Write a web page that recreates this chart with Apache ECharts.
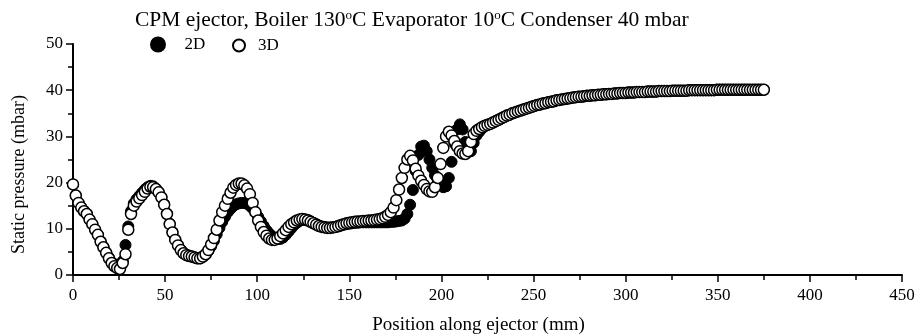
<!DOCTYPE html>
<html>
<head>
<meta charset="utf-8">
<script src="https://cdn.jsdelivr.net/npm/echarts@6/dist/echarts.min.js"></script>
<style>
  html, body { margin: 0; padding: 0; background: #fff; }
  #chart { width: 919px; height: 336px; }
</style>
</head>
<body>
<div id="chart"></div>
<script>
// Position along the ejector (mm), one sample every 1.5 mm
const positionMm = [
  0,1.5,3,4.5,6,7.5,9,10.5,12,13.5,
  15,16.5,18,19.5,21,22.5,24,25.5,27,28.5,
  30,31.5,33,34.5,36,37.5,39,40.5,42,43.5,
  45,46.5,48,49.5,51,52.5,54,55.5,57,58.5,
  60,61.5,63,64.5,66,67.5,69,70.5,72,73.5,
  75,76.5,78,79.5,81,82.5,84,85.5,87,88.5,
  90,91.5,93,94.5,96,97.5,99,100.5,102,103.5,
  105,106.5,108,109.5,111,112.5,114,115.5,117,118.5,
  120,121.5,123,124.5,126,127.5,129,130.5,132,133.5,
  135,136.5,138,139.5,141,142.5,144,145.5,147,148.5,
  150,151.5,153,154.5,156,157.5,159,160.5,162,163.5,
  165,166.5,168,169.5,171,172.5,174,175.5,177,178.5,
  180,181.5,183,184.5,186,187.5,189,190.5,192,193.5,
  195,196.5,198,199.5,201,202.5,204,205.5,207,208.5,
  210,211.5,213,214.5,216,217.5,219,220.5,222,223.5,
  225,226.5,228,229.5,231,232.5,234,235.5,237,238.5,
  240,241.5,243,244.5,246,247.5,249,250.5,252,253.5,
  255,256.5,258,259.5,261,262.5,264,265.5,267,268.5,
  270,271.5,273,274.5,276,277.5,279,280.5,282,283.5,
  285,286.5,288,289.5,291,292.5,294,295.5,297,298.5,
  300,301.5,303,304.5,306,307.5,309,310.5,312,313.5,
  315,316.5,318,319.5,321,322.5,324,325.5,327,328.5,
  330,331.5,333,334.5,336,337.5,339,340.5,342,343.5,
  345,346.5,348,349.5,351,352.5,354,355.5,357,358.5,
  360,361.5,363,364.5,366,367.5,369,370.5,372,373.5,
  375
];

// Static pressure (mbar), 2D simulation
const pressure2D = [
  19.6,17.2,15.6,14.6,13.8,13.2,12.0,11.0,9.8,8.7,
  7.3,6.1,4.9,3.8,2.8,2.1,1.7,1.6,3.0,6.5,
  10.5,13.8,15.5,16.4,17.1,17.8,18.5,19.0,19.3,19.2,
  18.7,18.0,16.9,15.3,13.3,11.1,9.3,7.7,6.5,5.5,
  4.8,4.4,4.2,4.0,3.8,3.6,3.6,3.9,4.4,5.2,
  6.2,7.4,8.8,10.2,11.5,12.6,13.6,14.3,14.9,15.3,
  15.5,15.6,15.6,15.4,15.0,14.4,13.6,12.6,11.6,10.6,
  9.7,9.0,8.4,8.0,7.8,7.8,8.1,8.7,9.4,10.1,
  10.8,11.3,11.7,11.9,12.0,11.9,11.6,11.3,11.0,10.7,
  10.5,10.4,10.3,10.3,10.3,10.4,10.5,10.7,10.9,11.0,
  11.1,11.2,11.3,11.3,11.4,11.4,11.4,11.4,11.4,11.4,
  11.4,11.4,11.4,11.4,11.4,11.5,11.5,11.6,11.7,11.8,
  12.2,13.2,15.2,18.4,22.5,26.0,27.8,28.0,26.8,25.0,
  23.2,21.6,20.4,19.5,19.0,19.2,21.0,24.5,28.5,31.5,
  32.6,31.5,28.8,26.6,26.8,28.6,30.2,31.0,31.7,32.2,
  32.5,32.7,33.0,33.3,33.6,33.9,34.2,34.5,34.7,35.0,
  35.2,35.4,35.6,35.8,36.0,36.2,36.4,36.6,36.8,36.9,
  37.1,37.2,37.4,37.5,37.6,37.8,37.9,38.0,38.1,38.2,
  38.3,38.4,38.5,38.6,38.6,38.7,38.8,38.8,38.9,38.9,
  39.0,39.0,39.1,39.1,39.2,39.2,39.3,39.3,39.4,39.4,
  39.4,39.5,39.5,39.5,39.6,39.6,39.6,39.6,39.7,39.7,
  39.7,39.7,39.8,39.8,39.8,39.8,39.8,39.9,39.9,39.9,
  39.9,39.9,39.9,40.0,40.0,40.0,40.0,40.0,40.0,40.0,
  40.0,40.0,40.0,40.1,40.1,40.1,40.1,40.1,40.1,40.1,
  40.1,40.1,40.1,40.1,40.1,40.1,40.1,40.1,40.1,40.1,
  40.1
];

// Static pressure (mbar), 3D simulation
const pressure3D = [
  19.6,17.2,15.6,14.6,13.8,13.2,12.0,11.0,9.8,8.7,
  7.2,6.0,4.8,3.6,2.6,1.9,1.5,1.3,2.6,4.5,
  9.8,13.2,15.0,15.9,16.6,17.3,18.0,18.7,19.1,19.0,
  18.6,17.9,16.8,15.2,13.2,11.0,9.2,7.6,6.4,5.4,
  4.7,4.3,4.1,4.0,3.8,3.6,3.6,4.0,4.5,5.4,
  6.6,8.0,9.8,11.8,13.6,15.0,16.5,17.8,18.9,19.5,
  19.8,19.8,19.4,18.7,17.5,15.6,13.6,11.8,10.4,9.3,
  8.5,7.9,7.6,7.6,7.9,8.4,9.0,9.7,10.4,11.0,
  11.4,11.8,12.0,12.1,12.0,11.8,11.5,11.2,10.9,10.6,
  10.4,10.3,10.2,10.2,10.3,10.4,10.6,10.8,11.0,11.2,
  11.3,11.4,11.5,11.6,11.6,11.7,11.7,11.8,11.8,11.9,
  12.0,12.1,12.3,12.6,13.0,13.6,14.6,16.2,18.5,21.0,
  23.2,25.0,25.8,24.8,23.0,21.5,20.4,19.5,18.6,18.1,
  18.0,19.0,21.0,24.0,27.5,30.0,31.0,30.2,29.0,27.8,
  26.8,26.3,26.2,26.8,28.8,30.5,31.2,31.6,32.0,32.3,
  32.5,32.7,33.0,33.3,33.6,33.9,34.2,34.5,34.7,35.0,
  35.2,35.4,35.6,35.8,36.0,36.2,36.4,36.6,36.8,36.9,
  37.1,37.2,37.4,37.5,37.6,37.8,37.9,38.0,38.1,38.2,
  38.3,38.4,38.5,38.6,38.6,38.7,38.8,38.8,38.9,38.9,
  39.0,39.0,39.1,39.1,39.2,39.2,39.3,39.3,39.4,39.4,
  39.4,39.5,39.5,39.5,39.6,39.6,39.6,39.6,39.7,39.7,
  39.7,39.7,39.8,39.8,39.8,39.8,39.8,39.9,39.9,39.9,
  39.9,39.9,39.9,40.0,40.0,40.0,40.0,40.0,40.0,40.0,
  40.0,40.0,40.0,40.1,40.1,40.1,40.1,40.1,40.1,40.1,
  40.1,40.1,40.1,40.1,40.1,40.1,40.1,40.1,40.1,40.1,
  40.1
];

const seriesNames = ['2D', '3D'];
const xTicks = [0, 50, 100, 150, 200, 250, 300, 350, 400, 450];
const yTicks = [0, 10, 20, 30, 40, 50];

const FONT = '"Liberation Serif", "Times New Roman", serif';
const INK = '#000';

function pairs(ys) {
  return positionMm.map((x, i) => [x, ys[i]]);
}

const axisCommon = {
  axisLine: { show: true, onZero: false, lineStyle: { color: INK, width: 2 } },
  axisTick: { show: true, inside: false, length: 7, lineStyle: { color: INK, width: 1.5 } },
  minorTick: { show: true, splitNumber: 2, length: 5, lineStyle: { color: INK, width: 1.5 } },
  splitLine: { show: false },
  axisLabel: { color: INK, fontFamily: FONT, fontSize: 17 },
  nameTextStyle: { color: INK, fontFamily: FONT, fontSize: 19 }
};

const chart = echarts.init(document.getElementById('chart'), null, { renderer: 'canvas' });

chart.setOption({
  animation: false,
  backgroundColor: '#fff',
  title: {
    left: 135,
    top: 9,
    padding: 0,
    text: '{n|CPM ejector, Boiler 130}{s|o}{n|C Evaporator 10}{s|o}{n|C Condenser 40 mbar}',
    textStyle: {
      fontWeight: 'normal',
      rich: {
        n: { fontFamily: FONT, fontSize: 21.5, fontWeight: 'normal', color: INK },
        s: { fontFamily: FONT, fontSize: 13, fontWeight: 'normal', color: INK, padding: [0, 0, 9, 0] }
      }
    }
  },
  legend: [
    {
      data: [seriesNames[0]],
      left: 150, top: 36, padding: 0,
      itemWidth: 43, itemHeight: 14, itemGap: 0,
      textStyle: { fontFamily: FONT, fontSize: 17, color: INK }
    },
    {
      data: [seriesNames[1]],
      left: 232, top: 37, padding: 0,
      itemWidth: 28, itemHeight: 12, itemGap: 0,
      textStyle: { fontFamily: FONT, fontSize: 17, color: INK }
    }
  ],
  grid: { left: 73, right: 17, top: 44, bottom: 61, containLabel: false, outerBoundsMode: 'none' },
  xAxis: Object.assign({}, axisCommon, {
    type: 'value',
    min: xTicks[0], max: xTicks[xTicks.length - 1], interval: 50,
    name: 'Position along ejector (mm)',
    nameLocation: 'middle', nameGap: 41,
    nameTextStyle: Object.assign({}, axisCommon.nameTextStyle, { padding: [0, 18, 0, 0] }),
    axisLabel: Object.assign({}, axisCommon.axisLabel, { margin: 12 })
  }),
  yAxis: Object.assign({}, axisCommon, {
    type: 'value',
    min: yTicks[0], max: yTicks[yTicks.length - 1], interval: 10,
    name: 'Static pressure (mbar)',
    nameLocation: 'middle', nameGap: 45, nameRotate: 90,
    nameTextStyle: Object.assign({}, axisCommon.nameTextStyle, { fontSize: 18, padding: [0, 30, 0, 0] }),
    axisLabel: Object.assign({}, axisCommon.axisLabel, { margin: 10 })
  }),
  series: [
    {
      name: seriesNames[0],
      type: 'scatter',
      data: pairs(pressure2D),
      symbol: 'circle',
      symbolSize: 11,
      itemStyle: { color: INK, borderColor: INK, borderWidth: 1, opacity: 1 },
      z: 2
    },
    {
      name: seriesNames[1],
      type: 'scatter',
      data: pairs(pressure3D),
      symbol: 'circle',
      symbolSize: 11,
      itemStyle: { color: '#fff', borderColor: INK, borderWidth: 1.5, opacity: 1 },
      z: 3
    }
  ]
});
</script>
</body>
</html>
